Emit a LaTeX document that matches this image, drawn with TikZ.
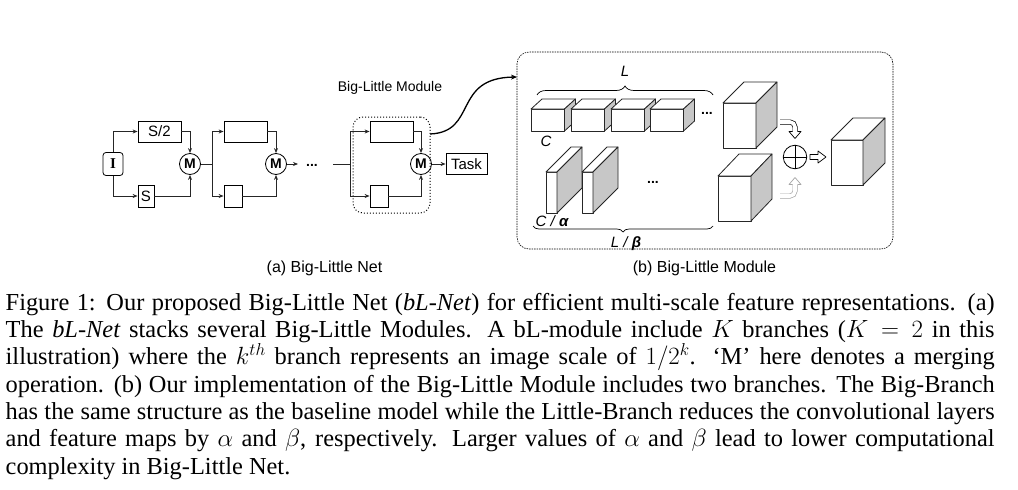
\documentclass[tikz,border=0pt]{standalone}
\usepackage{fontspec}
\setmainfont{Liberation Serif}
\setsansfont{Liberation Sans}
\usetikzlibrary{arrows.meta,decorations.pathreplacing,calc}
\definecolor{sidegray}{gray}{0.78}
\tikzset{
  box/.style={draw, line width=0.8pt, inner sep=0pt, font=\sffamily\fontsize{15}{15}\selectfont},
  merge/.style={draw, circle, line width=0.8pt, minimum size=21pt, inner sep=0pt, font=\sffamily\bfseries\fontsize{14}{14}\selectfont},
  conn/.style={line width=0.8pt, draw=black!85},
  arr/.style={conn, -{Stealth[length=5pt,width=4pt]}},
  dotsl/.style={font=\sffamily\bfseries\fontsize{14}{14}\selectfont, inner sep=0pt},
  lbl/.style={font=\sffamily\itshape\fontsize{15}{15}\selectfont, inner sep=0pt},
  cubeline/.style={line width=0.8pt, draw=black!85, line join=round},
  hollow/.style={line width=0.7pt, double=white, double distance=3.6pt},
  capt/.style={font=\sffamily\fontsize{16}{16}\selectfont, inner sep=0pt},
}
\newcommand{\drawcube}[6]{%
  \draw[cubeline, fill=white] (#1,#2) rectangle ++(#3,#4);
  \draw[cubeline, fill=white] (#1,#2) -- ++(#5,-#6) -- ++(#3,0) -- ++(-#5,#6) -- cycle;
  \draw[cubeline, fill=sidegray] (#1+#3,#2) -- ++(#5,-#6) -- ++(0,#4) -- ++(-#5,#6) -- cycle;
}
\begin{document}
\begin{tikzpicture}[x=1pt,y=-1pt]
\fill[white] (0,0) rectangle (1018,490);
\useasboundingbox (0,0) rectangle (1018,490);

% ---------- (a) Big-Little Net ----------
\node[box, rounded corners=3pt, minimum width=20pt, minimum height=23pt, font=\rmfamily\bfseries\fontsize{15}{15}\selectfont] (I) at (113,164) {I};
\node[box, minimum width=43pt, minimum height=21pt] (S2) at (159.5,131.5) {S/2};
\node[box, minimum width=16pt, minimum height=22pt] (S) at (146,196) {S};
\node[merge] (M1) at (190,164) {M};
\coordinate (sp2) at (212,164);
\node[box, minimum width=43pt, minimum height=21pt] (B2t) at (245.5,131.5) {};
\node[box, minimum width=18pt, minimum height=22pt] (B2b) at (233,196) {};
\node[merge] (M2) at (276,164) {M};
\coordinate (a2) at (298,164);
\node[dotsl] (D1) at (312,165) {...};
\coordinate (l3) at (333,164);
\coordinate (sp3) at (350,164);
\node[box, minimum width=43pt, minimum height=21pt] (B3t) at (391.5,131.5) {};
\node[box, minimum width=18pt, minimum height=22pt] (B3b) at (379,196) {};
\node[merge] (M3) at (421,164) {M};
\node[box, minimum width=41pt, minimum height=21pt] (T) at (466.5,164) {Task};
\node[draw, dotted, line width=1pt, rounded corners=10pt, minimum width=77pt, minimum height=96pt, inner sep=0pt] (BLM) at (391.5,165) {};
\node[font=\sffamily\fontsize{14}{14}\selectfont, inner sep=0pt] (BLMl) at (390,88) {Big-Little Module};

\draw[arr] (I.north) |- (S2.west);
\draw[arr] (I.south) |- (S.west);
\draw[arr] (S2.east) -| (M1.north);
\draw[arr] (S.east) -| (M1.south);
\draw[conn] (M1.east) -- (sp2);
\draw[arr] (sp2) |- (B2t.west);
\draw[arr] (sp2) |- (B2b.west);
\draw[arr] (B2t.east) -| (M2.north);
\draw[arr] (B2b.east) -| (M2.south);
\draw[arr] (M2.east) -- (a2);
\draw[conn] (l3) -- (sp3);
\draw[arr] (sp3) |- (B3t.west);
\draw[arr] (sp3) |- (B3b.west);
\draw[arr] (B3t.east) -| (M3.north);
\draw[arr] (B3b.east) -| (M3.south);
\draw[arr] (M3.east) -- (T.west);

\coordinate (c0) at (430,134);
\coordinate (c1) at (517,77);
\draw[line width=1.3pt, -{Stealth[length=6pt,width=5pt]}] (c0) .. controls (478,132) and (452,78) .. (c1);

\node[capt] (capa) at (324.5,268) {(a) Big-Little Net};

% ---------- (b) Big-Little Module ----------
\node[draw, dash pattern=on 1.5pt off 1pt, line width=0.6pt, rounded corners=12pt, minimum width=376pt, minimum height=197pt, inner sep=0pt] (BLB) at (705,150.5) {};

\drawcube{531}{109}{33.5}{22}{11}{10}
\drawcube{571}{109}{33.5}{22}{11}{10}
\drawcube{611}{109}{33.5}{22}{11}{10}
\drawcube{650}{109}{33.5}{22}{11}{10}
\node[dotsl] (D2) at (707,113) {...};

\drawcube{546}{172}{11}{41}{25}{25}
\drawcube{582}{172}{11}{41}{25}{25}
\node[dotsl] (D3) at (653,182) {...};

\drawcube{723}{103}{33}{45}{21}{21}
\drawcube{718}{176}{33}{45}{21}{22}
\drawcube{831}{140}{32}{45}{22}{22}

\draw[decorate, decoration={brace, amplitude=9pt}, line width=0.7pt] (537,95) -- (713,95);
\draw[decorate, decoration={brace, amplitude=6pt, mirror}, line width=0.7pt] (533,226) -- (713,226);
\node[lbl] (Ll) at (625,71) {L};
\node[lbl] (Cl) at (546,141) {C};
\node[lbl] (Cal) at (552,221) {C / \textbf{α}};
\node[lbl] (Lbl) at (626,244) {L / \textbf{β}};

\node[draw, circle, minimum size=23.5pt, inner sep=0pt, line width=0.8pt] (OP) at (795,157) {};
\draw[line width=0.8pt] (OP.north) -- (OP.south);
\draw[line width=0.8pt] (OP.west) -- (OP.east);

% upper hollow arrow
\draw[hollow, rounded corners=5pt] (780,122) -| (795,132);
\fill[white] (789,131.5) -- (801,131.5) -- (795,138.5) -- cycle;
\draw[line width=0.7pt, line join=round] (792.5,131.5) -- (789,131.5) -- (795,138.5) -- (801,131.5) -- (797.5,131.5);
% lower hollow arrow
\draw[hollow, draw=gray!70, rounded corners=5pt] (780,196) -| (795,184);
\fill[white] (789,184.5) -- (801,184.5) -- (795,177.5) -- cycle;
\draw[line width=0.7pt, draw=gray!70, line join=round] (792.5,184.5) -- (789,184.5) -- (795,177.5) -- (801,184.5) -- (797.5,184.5);
% right hollow arrow
\draw[line width=0.7pt, fill=white, line join=round] (810,154.5) -- (818,154.5) -- (818,151) -- (826,157) -- (818,163) -- (818,159.5) -- (810,159.5) -- cycle;

\node[capt] (capb) at (704.5,268) {(b) Big-Little Module};

% ---------- caption ----------
\node[anchor=north west, inner sep=0pt, text width=989pt, align=justify, font=\rmfamily\fontsize{24.4}{27.3}\selectfont] (cap) at (5.5,293) {%
Figure 1: Our proposed Big-Little Net (\textit{bL-Net}) for efficient multi-scale feature representations. (a)\linebreak
The \textit{bL-Net} stacks several Big-Little Modules. A bL-module include $K$ branches ($K = 2$ in this\linebreak
illustration) where the $k^{th}$ branch represents an image scale of $1/2^k$. `M' here denotes a merging\linebreak
operation. (b) Our implementation of the Big-Little Module includes two branches. The Big-Branch\linebreak
has the same structure as the baseline model while the Little-Branch reduces the convolutional layers\linebreak
and feature maps by $\alpha$ and $\beta$, respectively. Larger values of $\alpha$ and $\beta$ lead to lower computational\linebreak
complexity in Big-Little Net.};
\end{tikzpicture}
\end{document}
